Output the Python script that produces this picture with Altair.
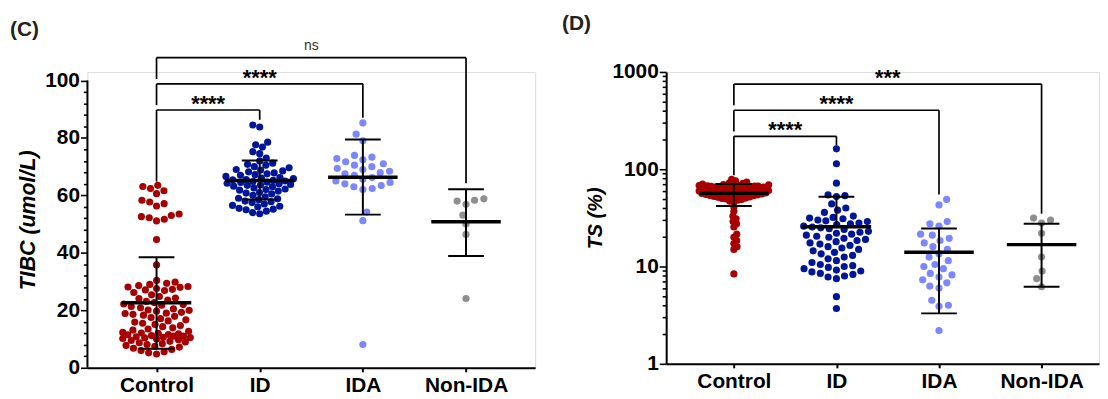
import math
import json
import altair as alt
import pandas as pd

FONT = "Liberation Sans"

categories = ["Control", "ID", "IDA", "Non-IDA"]
group_colors = ["#A80000", "#00169A", "#7B86FF", "#8E8E8E"]

# ---------------- Panel C : TIBC (umol/L) ----------------
tibc_control = [63.5, 63.1, 62.4, 61.6, 60.6, 58.3, 57.7, 57.1, 56.3, 53.5, 53.0, 52.6,
                52.2, 51.7, 51.1, 44.6, 35.8,
                30.4, 29.8, 29.4, 29.0, 28.6, 28.3, 28.0, 27.6, 27.3, 26.9, 26.2, 25.4,
                24.8, 24.1, 23.6, 23.1, 22.7, 22.2, 21.8, 21.3, 20.9, 20.5, 20.1, 19.7,
                19.3, 18.9, 18.6, 18.3, 17.9, 17.5, 17.1, 16.7, 16.3, 15.9, 15.5, 15.1,
                14.7, 14.3, 13.9, 13.5, 13.1, 12.7, 12.3, 12.0, 11.8, 11.5, 11.2, 11.0,
                10.8, 10.6, 10.4, 10.2, 10.0, 9.8, 9.5, 9.2, 9.0, 8.7, 8.4, 8.1, 7.8, 7.5,
                7.2, 6.8, 6.4, 6.0, 5.6, 5.2, 4.8, 10.5, 11.0, 11.6, 12.1, 19.0, 20.0,
                22.0, 24.3, 27.1, 28.1]
tibc_id = [84.5, 83.8, 78.5, 77.6, 76.8, 75.2, 74.5, 73.0, 72.0, 71.2, 70.5, 70.0, 69.6,
           69.0, 68.5, 68.2, 67.8, 67.5, 67.0, 66.6, 66.2, 65.8, 65.5, 65.2, 65.0, 64.8,
           64.5, 64.2, 64.0, 63.8, 63.5, 63.2, 63.0, 62.6, 62.2, 61.8, 61.5, 61.0, 60.5,
           60.0, 59.5, 59.0, 58.5, 58.0, 57.5, 57.0, 56.5, 56.0, 55.5, 55.0, 54.5, 54.0,
           53.6, 65.4, 64.6, 63.6, 66.0, 67.2, 68.8, 62.0, 60.8, 58.8, 57.8, 56.2, 55.2,
           70.8]
tibc_ida = [85.2, 81.3, 79.0, 73.9, 73.3, 72.8, 72.4, 71.7, 71.0, 70.5, 70.0, 69.4, 69.0,
            68.4, 67.9, 67.5, 67.0, 66.2, 65.6, 65.0, 64.5, 64.0, 63.4, 63.0, 62.4, 62.0,
            54.2, 51.2, 8.1]
tibc_nonida = [58.3, 56.9, 58.0, 58.8, 53.1, 50.0, 46.4, 24.1]
tibc_mean = [22.6, 65.2, 66.3, 50.8]
tibc_sd_low = [6.6, 58.6, 53.3, 38.9]
tibc_sd_high = [38.5, 72.1, 79.4, 62.1]
tibc_cmp_target = ["ID", "IDA", "Non-IDA"]
tibc_cmp_label = ["****", "****", "ns"]
tibc_cmp_level = [89.7, 98.8, 107.9]
tibc_cmp_left_end = [64.8, 91.4, 100.5]
tibc_cmp_right_end = [86.3, 87.0, 64.2]

# ---------------- Panel D : TS (%) ----------------
ts_control = [79, 76, 74, 72.5, 71.5, 70.5, 70, 69.5, 69, 68.5, 68, 67.5, 67, 66.6, 66.2,
              65.8, 65.4, 65, 64.6, 64.2, 63.8, 63.4, 63, 62.6, 62.2, 61.8, 61.4, 61, 60.6,
              60.2, 59.8, 59.4, 59, 58.6, 58.2, 57.8, 57.4, 57, 56.6, 56.2, 55.8, 55.4, 55,
              54.6, 54.2, 53.8, 53.4, 53, 52.6, 52.2, 51.8, 51.4, 51, 50.5, 50, 49.5, 49,
              48, 47, 46, 67.2, 66.8, 66.4, 65.2, 64.8, 64.4, 63.2, 62.8, 62.4, 61.6, 61.2,
              60.8, 60.4, 59.6, 59.2, 58.4, 57.6, 56.4, 55.6, 54.4,
              41, 37, 33, 31, 29, 27.5, 25.5, 21.5, 20, 18.5, 17.2, 16, 15, 8.4]
ts_id = [162, 114, 72, 54.5, 53.5, 52.5, 44, 40, 38, 36, 33, 32, 31.5, 31, 30, 29.5, 29,
         28, 27.5, 27, 26, 25.5, 25, 24.5, 24, 23, 22.5, 22, 21.5, 21, 20.5, 20, 19.5, 19,
         18.5, 18, 17.5, 17, 16.5, 16, 15.5, 15, 14.5, 14, 13.5, 13, 12.5, 12, 11.5, 11,
         10.5, 10.2, 10, 9.8, 9.5, 9.2, 9, 8.8, 8.5, 8.3, 8, 7.8, 7.5, 4.9, 3.7]
ts_ida = [49, 43, 29, 27.5, 26, 21.5, 21, 19.5, 18.5, 17.5, 16, 15, 13.5, 12.5, 11.5, 10.5,
          10, 9.5, 8.5, 8.2, 7.8, 7.3, 6.8, 6.3, 6.0, 4.5, 4.0, 3.9, 2.2]
ts_nonida = [31.5, 30, 28, 22, 12.5, 9, 7.5, 6.2]
ts_mean = [56.5, 25.6, 14.0, 16.8]
ts_sd_low = [42.0, None, 3.3, 6.2]
ts_sd_high = [70.5, 52.2, 24.6, 27.6]
ts_cmp_target = ["ID", "IDA", "Non-IDA"]
ts_cmp_label = ["****", "****", "***"]
ts_cmp_level = [218, 404, 751]
ts_cmp_left_end = [87, 245, 456]
ts_cmp_right_end = [176, 55, 35]


def swarm(vals, to_px, diam, maxw):
    ys = [to_px(v) for v in vals]
    order = sorted(range(len(vals)), key=lambda i: ys[i])
    placed = []
    out = [0.0] * len(vals)
    flip = 1
    grid = [maxw * (k / 20.0) for k in range(-20, 21)]
    for i in order:
        y = ys[i]
        near = [(px, py) for (px, py) in placed if abs(py - y) < diam]
        cands = [0.0]
        for px, py in near:
            dx = math.sqrt(max(diam * diam - (py - y) ** 2, 0.0))
            cands.extend([px + dx, px - dx])
        flip = -flip
        cands = [c for c in cands if abs(c) <= maxw]
        cands.sort(key=lambda c: (round(abs(c), 4), flip * c))
        chosen = None
        for c in cands:
            if all((c - px) ** 2 + (y - py) ** 2 >= diam * diam - 1e-6 for px, py in near):
                chosen = c
                break
        if chosen is None:
            best = -1.0
            for c in grid:
                dmin = min(((c - px) ** 2 + (y - py) ** 2 for px, py in near), default=1e9)
                if dmin > best + 1e-9:
                    best, chosen = dmin, c
        placed.append((chosen, y))
        out[i] = chosen
    return out


label_expr = json.dumps(categories) + "[datum.value]"


def panel(groups, diams, maxws, to_px, unit_px, xdom, yscale, yaxis, mean, lo, hi,
          cmp_target, cmp_label, cmp_level, cmp_left, cmp_right, width, height,
          title_text, title_dx, title_offset, axis_line=None):
    rows = []
    for gi, vals in enumerate(groups):
        offs = swarm(vals, to_px, diams[gi], maxws[gi])
        for v, o in zip(vals, offs):
            rows.append({"group": categories[gi], "value": v, "xpos": gi + o / unit_px})
    df_pts = pd.DataFrame(rows)

    err = []
    for gi in range(4):
        err.append({"idx": gi, "mean": mean[gi],
                    "vlo": lo[gi] if lo[gi] is not None else mean[gi],
                    "hi": hi[gi], "lo": lo[gi]})
    df_err = pd.DataFrame(err)
    df_lo = df_err[df_err["lo"].notna()]

    br = []
    for t, lab, lev, le, re in zip(cmp_target, cmp_label, cmp_level, cmp_left, cmp_right):
        k = categories.index(t)
        br.append({"x0": 0, "x1": k, "xm": k / 2, "level": lev, "le": le, "re": re,
                   "label": lab, "star": lab != "ns"})
    df_br = pd.DataFrame(br)

    xs = alt.Scale(domain=xdom, nice=False, zero=False)
    xaxis = alt.Axis(values=[0, 1, 2, 3], labelExpr=label_expr, title=None, grid=False,
                     domainColor="black", domainWidth=2, tickColor="black", tickWidth=2,
                     tickSize=4, labelFont=FONT, labelFontSize=21, labelFontWeight="bold",
                     labelColor="black", labelPadding=3, labelAngle=0, labelOverlap=False)

    def X(f):
        return alt.X(f, type="quantitative", scale=xs, axis=xaxis)

    def Y(f):
        return alt.Y(f, type="quantitative", scale=yscale, axis=yaxis)

    pts = alt.Chart(df_pts).mark_circle(size=52, opacity=1).encode(
        x=X("xpos"), y=Y("value"),
        color=alt.Color("group:N", scale=alt.Scale(domain=categories, range=group_colors),
                        legend=None),
    )
    vert = alt.Chart(df_err).mark_rule(color="black", strokeWidth=2).encode(
        x=X("idx"), y=Y("vlo"), y2="hi:Q")
    mline = alt.Chart(df_err).mark_rule(color="black", strokeWidth=3.5, xOffset=-35,
                                        x2Offset=35).encode(x=X("idx"), x2="idx:Q", y=Y("mean"))
    cap_hi = alt.Chart(df_err).mark_rule(color="black", strokeWidth=2, xOffset=-18,
                                         x2Offset=18).encode(x=X("idx"), x2="idx:Q", y=Y("hi"))
    cap_lo = alt.Chart(df_lo).mark_rule(color="black", strokeWidth=2, xOffset=-18,
                                        x2Offset=18).encode(x=X("idx"), x2="idx:Q", y=Y("lo"))
    bh = alt.Chart(df_br).mark_rule(color="black", strokeWidth=1.7).encode(
        x=X("x0"), x2="x1:Q", y=Y("level"))
    bl = alt.Chart(df_br).mark_rule(color="black", strokeWidth=1.7).encode(
        x=X("x0"), y=Y("level"), y2="le:Q")
    brr = alt.Chart(df_br).mark_rule(color="black", strokeWidth=1.7).encode(
        x=X("x1"), y=Y("level"), y2="re:Q")
    stars = alt.Chart(df_br).transform_filter("datum.star").mark_text(
        font=FONT, fontSize=22, fontWeight="bold", color="black", baseline="alphabetic",
        dy=1).encode(x=X("xm"), y=Y("level"), text="label:N")
    ns = alt.Chart(df_br).transform_filter("!datum.star").mark_text(
        font=FONT, fontSize=14, color="#333333", baseline="alphabetic", dy=-8).encode(
        x=X("xm"), y=Y("level"), text="label:N")
    layers = [pts, vert, mline, cap_hi, cap_lo, bh, bl, brr, stars, ns]
    if axis_line is not None:
        df_ax = pd.DataFrame([{"x": xdom[0], "y0": axis_line[0], "y1": axis_line[1]}])
        layers.append(alt.Chart(df_ax).mark_rule(color="black", strokeWidth=2).encode(
            x=X("x"), y=Y("y0"), y2="y1:Q"))
    return alt.layer(*layers).properties(
        width=width, height=height,
        title=alt.TitleParams(title_text, anchor="start", frame="group", dx=title_dx,
                              offset=title_offset, font=FONT, fontSize=21,
                              fontWeight="bold", color="#222222"))


# Panel C geometry
C_PX = 2.89
C_YMAX = 100 + 8.5 / C_PX
C_H = round(C_YMAX * C_PX)
c_yaxis = alt.Axis(values=list(range(0, 101, 4)),
                   labelExpr="datum.value % 20 === 0 ? datum.label : ''",
                   tickSize={"condition": {"test": "datum.value % 20 === 0", "value": 7},
                             "value": 4},
                   domain=False, grid=False, labelOverlap=False, tickColor="black",
                   tickWidth=1.6, labelFont=FONT, labelFontSize=21, labelFontWeight="bold",
                   labelColor="black", labelPadding=1, title="TIBC (umol/L)",
                   titleFont=FONT, titleFontSize=21.5, titleFontWeight="bold",
                   titleFontStyle="italic", titleColor="black", titlePadding=5)
chart_c = panel([tibc_control, tibc_id, tibc_ida, tibc_nonida], [8.0, 7.2, 9.5, 9.5],
                [34, 34, 34, 34],
                lambda v: v * C_PX, 451 / 4.34, [-0.67, 3.67],
                alt.Scale(domain=[0, C_YMAX], nice=False, zero=False), c_yaxis,
                tibc_mean, tibc_sd_low, tibc_sd_high, tibc_cmp_target, tibc_cmp_label,
                tibc_cmp_level, tibc_cmp_left_end, tibc_cmp_right_end, 451, C_H,
                "(C)", -78, -1, axis_line=(0, 100))

# Panel D geometry
D_H = 294
D_DEC = D_H / 3
d_ticks = [1, 2, 3, 4, 5, 6, 7, 8, 9, 10, 20, 30, 40, 50, 60, 70, 80, 90, 100,
           200, 300, 400, 500, 600, 700, 800, 900, 1000]
d_yaxis = alt.Axis(values=d_ticks,
                   labelExpr="indexof([1,10,100,1000], datum.value) >= 0 ? datum.label : ''",
                   tickSize={"condition": {"test": "indexof([1,10,100,1000], datum.value) >= 0",
                                           "value": 7}, "value": 4},
                   format="d", domain=True, domainColor="black", domainWidth=2, grid=False,
                   labelOverlap=False, tickColor="black", tickWidth=1.6, labelFont=FONT,
                   labelFontSize=21, labelFontWeight="bold", labelColor="black",
                   labelPadding=1, title="TS (%)", titleFont=FONT, titleFontSize=20,
                   titleFontWeight="bold", titleFontStyle="italic", titleColor="black",
                   titlePadding=6)
chart_d = panel([ts_control, ts_id, ts_ida, ts_nonida], [4.2, 8.6, 9.5, 9.5],
                [35, 34, 34, 34],
                lambda v: math.log10(v) * D_DEC, 436 / 4.22, [-0.66, 3.56],
                alt.Scale(type="log", domain=[1, 1000], nice=False), d_yaxis,
                ts_mean, ts_sd_low, ts_sd_high, ts_cmp_target, ts_cmp_label,
                ts_cmp_level, ts_cmp_left_end, ts_cmp_right_end, 436, D_H,
                "(D)", -105, 27)

chart = alt.hconcat(chart_c, chart_d, spacing=132, bounds="flush").properties(
    padding={"left": 1, "top": 3, "right": 0, "bottom": 0}
).configure_view(strokeWidth=0).configure(background="white")

chart.save("out.html", embed_options={"renderer": "svg", "actions": False})
